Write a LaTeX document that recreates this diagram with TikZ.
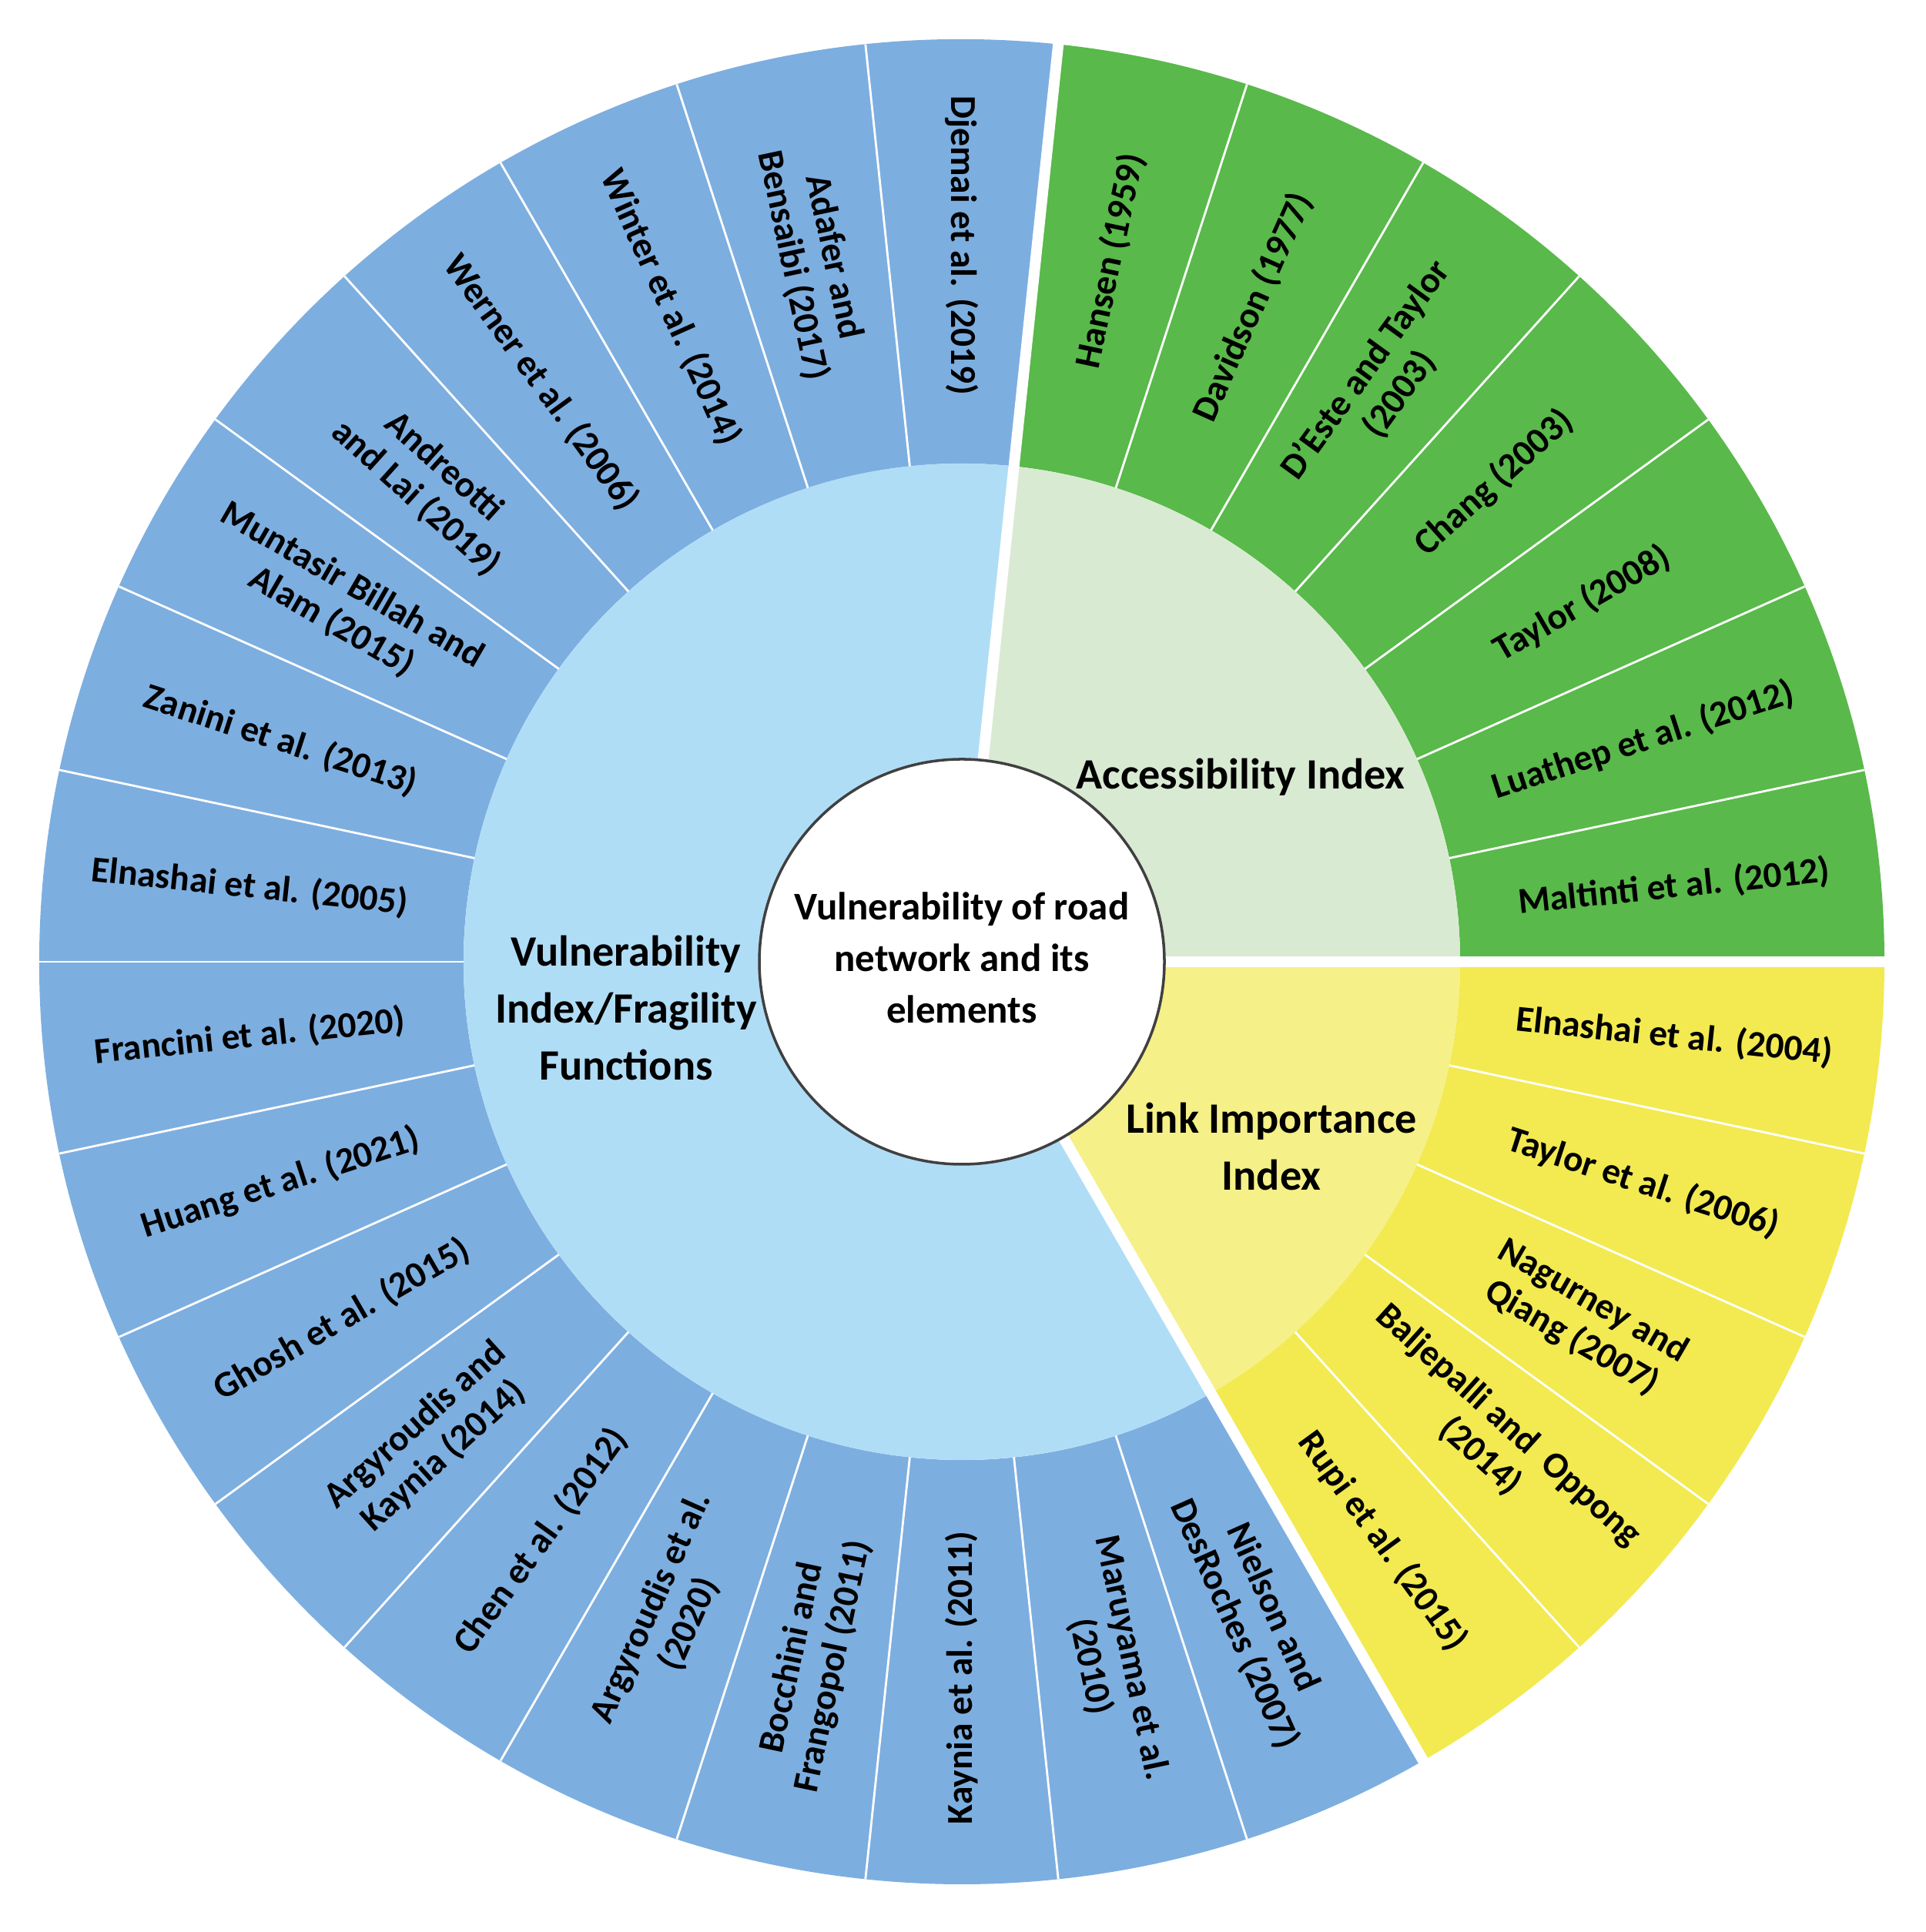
\documentclass[tikz,border=0pt]{standalone}
\usepackage{fontspec}
\setmainfont{Carlito}
\definecolor{bo}{RGB}{125,174,224}
\definecolor{bi}{RGB}{176,221,246}
\definecolor{go}{RGB}{89,185,74}
\definecolor{gi}{RGB}{217,234,211}
\definecolor{yo}{RGB}{242,234,80}
\definecolor{yi}{RGB}{245,240,135}
\begin{document}
\begin{tikzpicture}[
  lab/.style={font=\bfseries\fontsize{13.5}{15.5}\selectfont, align=center, inner sep=0pt},
  mid/.style={font=\bfseries\fontsize{16}{21}\selectfont, align=center},
  sep/.style={white, line width=0.8pt}]
\useasboundingbox (0,0) rectangle (25,25.09);
\begin{scope}[shift={(12.49,12.60)}]
\def\ra{2.63}\def\rb{6.47}\def\rc{11.98}
\foreach \a/\b/\c in {0/84/go, -60/0/yo, 84/300/bo}
  \fill[\c] (\a:\rb) -- (\a:\rc) arc[start angle=\a, end angle=\b, radius=\rc] -- (\b:\rb) arc[start angle=\b, end angle=\a, radius=\rb] -- cycle;
\foreach \a/\b/\c in {0/84/gi, -60/0/yi, 84/300/bi}
  \fill[\c] (\a:\ra) -- (\a:\rb) arc[start angle=\a, end angle=\b, radius=\rb] -- (\b:\ra) arc[start angle=\b, end angle=\a, radius=\ra] -- cycle;
\foreach \k in {1,...,29} \draw[sep] (\k*12-60:\rb) -- (\k*12-60:\rc);
\foreach \a in {0,84,300} \draw[white, line width=4pt] (\a:\ra) -- (\a:\rc+0.1);
\fill[white] (0,0) circle (\ra);
\draw[black!75, line width=1pt] (0,0) circle (\ra);
\node[mid, font=\bfseries\fontsize{14.5}{19}\selectfont] (c) at (0,0.05) {Vulnerability of road\\network and its\\elements};
\node[mid] (v) at (-4.36,-0.6) {Vulnerability\\Index/Fragility\\Functions};
\node[mid] (a) at (3.62,2.40) {Accessibility Index};
\node[mid] (l) at (4.02,-2.40) {Link Importance\\Index};
\foreach \m/\t in {78/{Hansen (1959)}, 66/{Davidson (1977)}, 54/{D'Este and Taylor\\(2003)}, 42/{Chang (2003)}, 30/{Taylor (2008)}, 18/{Luathep et al. (2012)}, 6/{Maltinti et al. (2012)},
 -6/{Elnashai et al. (2004)}, -18/{Taylor et al. (2006)}, -30/{Nagurney and\\Qiang (2007)}, -42/{Baljepalli and \ Oppong\\(2014)}, -54/{Rupi et al. (2015)},
 294/{Nielson and\\DesRoches (2007)}, 282/{Maruyama et al.\\(2010)}}
  \node[lab, rotate=\m] (t\m) at (\m:9.3) {\t};
\foreach \m/\t in {90/{Djemai et al. (2019)}, 102/{Adafer and\\Bensaibi (2017)}, 114/{Winter et al. (2014)}, 126/{Werner et al. (2006)}, 138/{Andreotti\\and Lai (2019)}, 150/{Muntasir Billah and\\Alam (2015)}, 162/{Zanini et al. (2013)}, 174/{Elnashai et al. (2005)}, 186/{Francini et al. (2020)}, 198/{Huang et al. (2021)}, 210/{Ghosh et al. (2015)}, 222/{Argyroudis and\\Kaynia (2014)}, 234/{Chen et al. (2012)}, 246/{Argyroudis et al.\\(2020)}, 258/{Bocchini and\\Frangopol (2011)}, 270/{Kaynia et al. (2011)}}
  \node[lab, rotate=\m-180] (t\m) at (\m:9.3) {\t};
\end{scope}
\end{tikzpicture}
\end{document}
